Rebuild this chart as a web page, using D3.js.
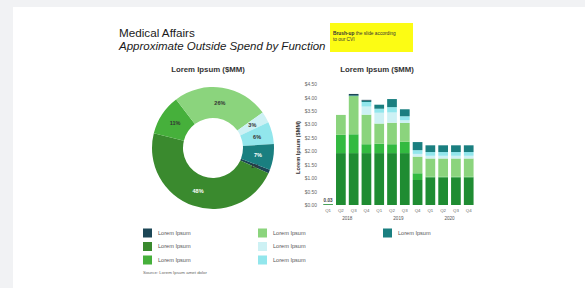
<!DOCTYPE html>
<html lang="en">
<head>
<meta charset="UTF-8">
<title>Medical Affairs</title>
<script src="https://cdn.jsdelivr.net/npm/d3@7"></script>
<style>
  html, body { margin: 0; padding: 0; background: #f1f2f4; }
  svg { display: block; font-family: "Liberation Sans", Arial, sans-serif; }
</style>
</head>
<body>
<svg id="chart" width="585" height="288"></svg>
<script>
// ---- data ----
var seriesNames = ["Lorem Ipsum", "Lorem Ipsum", "Lorem Ipsum", "Lorem Ipsum", "Lorem Ipsum", "Lorem Ipsum", "Lorem Ipsum"];
var seriesKeys = ["navy", "dkgreen", "green", "ltgreen", "vltcyan", "ltcyan", "teal"];

// donut shares (%) in legend order
var donutValues = [1, 48, 11, 26, 3, 6, 7];

// quarters / years of the bar chart
var quarters = ["Q1", "Q2", "Q3", "Q4", "Q1", "Q2", "Q3", "Q4", "Q1", "Q2", "Q3", "Q4"];
var years = ["2018", "2019", "2020"];

// stacked bar values ($MM), one array per series
var navyVals    = [0,    0,    0.05, 0.03, 0,    0,    0,    0,    0,    0,    0,    0];
var dkgreenVals = [0.03, 1.93, 1.93, 1.93, 1.93, 1.93, 1.93, 0.93, 1.03, 1.03, 1.03, 1.03];
var greenVals   = [0,    0.68, 0.70, 0.33, 0.35, 0.33, 0.42, 0.25, 0.02, 0.02, 0.02, 0.02];
var ltgreenVals = [0,    0.74, 1.42, 1.10, 0.75, 0.80, 0.70, 0.62, 0.68, 0.68, 0.68, 0.68];
var vltcyanVals = [0,    0,    0,    0.30, 0.40, 0.38, 0.10, 0.10, 0.10, 0.10, 0.10, 0.10];
var ltcyanVals  = [0,    0,    0,    0.17, 0.15, 0.20, 0.15, 0.14, 0.14, 0.14, 0.14, 0.14];
var tealVals    = [0,    0,    0.03, 0.05, 0.15, 0.30, 0.26, 0.30, 0.25, 0.25, 0.25, 0.25];
var smallLabel = "0.03";

var yTicks = [0, 0.5, 1, 1.5, 2, 2.5, 3, 3.5, 4, 4.5];

// ---- colours ----
var legendColors = {
  navy: "#1c4656", dkgreen: "#3a8a2e", green: "#46b03b", ltgreen: "#8bd47d",
  vltcyan: "#cdf1f4", ltcyan: "#92e6ec", teal: "#1a7f80"
};
var barColors = {
  navy: "#1c4656", dkgreen: "#1f8c32", green: "#33ba40", ltgreen: "#8bd47d",
  vltcyan: "#cdf1f4", ltcyan: "#92e6ec", teal: "#1a7f80"
};

var svg = d3.select("#chart");

// white card
svg.append("rect")
  .attr("x", 13).attr("y", 7)
  .attr("width", 572).attr("height", 281)
  .attr("fill", "#ffffff");

// titles
svg.append("text")
  .attr("x", 119).attr("y", 36.5)
  .attr("font-size", "11.7px").attr("fill", "#1a1a1a")
  .text("Medical Affairs");
svg.append("text")
  .attr("x", 119).attr("y", 50)
  .attr("font-size", "11.5px").attr("font-style", "italic").attr("fill", "#1a1a1a")
  .text("Approximate Outside Spend by Function");

// yellow note
svg.append("rect")
  .attr("x", 330).attr("y", 23)
  .attr("width", 83).attr("height", 29)
  .attr("fill", "#fcfc14");
var note = svg.append("text")
  .attr("x", 333).attr("y", 35)
  .attr("font-size", "4.8px").attr("fill", "#333");
note.append("tspan").attr("font-weight", "bold").text("Brush-up");
note.append("tspan").text(" the slide according");
svg.append("text")
  .attr("x", 333).attr("y", 41)
  .attr("font-size", "4.8px").attr("fill", "#333")
  .text("to our CVI");

// chart titles
svg.append("text")
  .attr("x", 208).attr("y", 72)
  .attr("text-anchor", "middle")
  .attr("font-size", "7.8px").attr("font-weight", "bold").attr("fill", "#333")
  .text("Lorem Ipsum ($MM)");
svg.append("text")
  .attr("x", 377).attr("y", 72)
  .attr("text-anchor", "middle")
  .attr("font-size", "7.8px").attr("font-weight", "bold").attr("fill", "#333")
  .text("Lorem Ipsum ($MM)");

// ---- donut ----
var cx = 213, cy = 148, rOuter = 61, rInner = 30;
var pie = d3.pie()
  .sort(null)
  .value(function(d) { return d; })
  .startAngle(111 * Math.PI / 180)
  .endAngle(471 * Math.PI / 180);
var arc = d3.arc().innerRadius(rInner).outerRadius(rOuter);
var arcs = pie(donutValues);

var donut = svg.append("g").attr("transform", "translate(" + cx + "," + cy + ")");
donut.selectAll("path")
  .data(arcs)
  .enter()
  .append("path")
  .attr("d", arc)
  .attr("fill", function(d, i) { return legendColors[seriesKeys[i]]; });

donut.selectAll("text")
  .data(arcs)
  .enter()
  .append("text")
  .attr("transform", function(d) { return "translate(" + arc.centroid(d) + ")"; })
  .attr("text-anchor", "middle")
  .attr("dy", "0.35em")
  .attr("font-size", "5.5px")
  .attr("font-weight", "bold")
  .attr("fill", function(d, i) { return (seriesKeys[i] == "dkgreen" || seriesKeys[i] == "teal") ? "#ffffff" : "#333333"; })
  .text(function(d) { return d.data + "%"; });

// ---- stacked bars ----
var x0 = 321.7, x1 = 475.1, yBottom = 205, yTop = 84;
var xScale = d3.scaleBand()
  .domain(d3.range(quarters.length))
  .range([x0, x1])
  .paddingInner(0.24)
  .paddingOuter(0.12);
var yScale = d3.scaleLinear()
  .domain([0, 4.5])
  .range([yBottom, yTop]);

var table = quarters.map(function(q, i) {
  return {
    i: i,
    navy: navyVals[i], dkgreen: dkgreenVals[i], green: greenVals[i], ltgreen: ltgreenVals[i],
    vltcyan: vltcyanVals[i], ltcyan: ltcyanVals[i], teal: tealVals[i]
  };
});
var stackOrder = ["dkgreen", "green", "ltgreen", "vltcyan", "ltcyan", "teal", "navy"];
var stacked = d3.stack().keys(stackOrder)(table);

var bars = svg.append("g");
bars.selectAll("g")
  .data(stacked)
  .enter()
  .append("g")
  .attr("fill", function(s) { return barColors[s.key]; })
  .selectAll("rect")
  .data(function(s) { return s; })
  .enter()
  .append("rect")
  .attr("x", function(d) { return xScale(d.data.i); })
  .attr("width", xScale.bandwidth())
  .attr("y", function(d) { return yScale(d[1]); })
  .attr("height", function(d) { return yScale(d[0]) - yScale(d[1]); });

// small value label on first bar
svg.append("text")
  .attr("x", xScale(0) + xScale.bandwidth() / 2)
  .attr("y", yScale(dkgreenVals[0]) - 2)
  .attr("text-anchor", "middle")
  .attr("font-size", "4.6px").attr("font-weight", "bold").attr("fill", "#444")
  .text(smallLabel);

// y axis
var yAxis = svg.append("g")
  .attr("transform", "translate(317,0)")
  .call(d3.axisLeft(yScale).tickValues(yTicks).tickSize(0).tickPadding(0).tickFormat(d3.format("$.2f")));
yAxis.select(".domain").remove();
yAxis.selectAll("text")
  .attr("font-size", "4.9px").attr("fill", "#666").attr("font-family", "Liberation Sans, Arial, sans-serif");

svg.append("text")
  .attr("transform", "translate(300," + ((yBottom + yTop) / 2 + 3) + ") rotate(-90)")
  .attr("text-anchor", "middle")
  .attr("font-size", "5.6px").attr("font-weight", "bold").attr("fill", "#333")
  .text("Lorem Ipsum ($MM)");

// quarter labels
svg.append("g").selectAll("text")
  .data(quarters)
  .enter()
  .append("text")
  .attr("x", function(d, i) { return xScale(i) + xScale.bandwidth() / 2; })
  .attr("y", 212)
  .attr("text-anchor", "middle")
  .attr("font-size", "4.4px").attr("fill", "#666")
  .text(function(d) { return d; });

// year labels
svg.append("g").selectAll("text")
  .data(years)
  .enter()
  .append("text")
  .attr("x", function(d, i) {
    return (xScale(i * 4) + xScale(i * 4 + 3) + xScale.bandwidth()) / 2;
  })
  .attr("y", 220)
  .attr("text-anchor", "middle")
  .attr("font-size", "4.6px").attr("fill", "#555")
  .text(function(d) { return d; });

// ---- legend ----
var legendCols = [143, 258, 383];
var legendRows = [233, 246.5, 260];
var legendPos = [[0, 0], [0, 1], [0, 2], [1, 0], [1, 1], [1, 2], [2, 0]];
var legend = svg.append("g");
var items = legend.selectAll("g")
  .data(seriesKeys)
  .enter()
  .append("g")
  .attr("transform", function(d, i) {
    return "translate(" + legendCols[legendPos[i][0]] + "," + legendRows[legendPos[i][1]] + ")";
  });
items.append("rect")
  .attr("x", 0).attr("y", -4.5)
  .attr("width", 9).attr("height", 9)
  .attr("fill", function(d) { return legendColors[d]; });
items.append("text")
  .attr("x", 15).attr("y", 0)
  .attr("dy", "0.35em")
  .attr("font-size", "5.6px").attr("fill", "#555")
  .text(function(d, i) { return seriesNames[i]; });

svg.append("text")
  .attr("x", 143).attr("y", 274)
  .attr("font-size", "4.4px").attr("fill", "#666")
  .text("Source: Lorem Ipsum amet dolor");
</script>
</body>
</html>
